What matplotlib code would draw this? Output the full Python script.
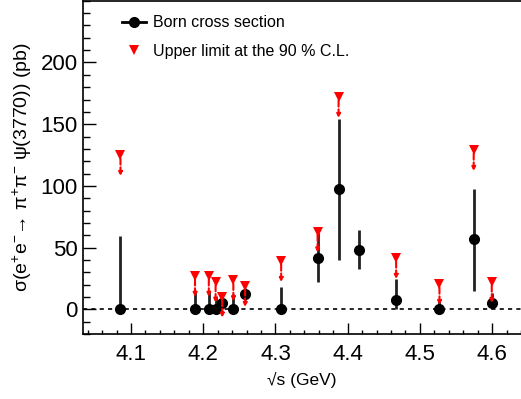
import numpy as np
import matplotlib
matplotlib.use("Agg")
import matplotlib.pyplot as plt
from matplotlib.lines import Line2D
from matplotlib.ticker import MultipleLocator

plt.rcParams['font.family'] = ['Liberation Sans', 'DejaVu Sans']
plt.rcParams['mathtext.fontset'] = 'custom'
plt.rcParams['mathtext.rm'] = 'Liberation Sans'
plt.rcParams['mathtext.it'] = 'Liberation Sans'
plt.rcParams['mathtext.bf'] = 'Liberation Sans:bold'
plt.rcParams['mathtext.default'] = 'rm'

# ---- data ----
energy = [4.0854, 4.1886, 4.2077, 4.2171, 4.2263, 4.2417, 4.2580, 4.3079,
          4.3583, 4.3874, 4.4156, 4.4671, 4.5271, 4.5745, 4.5995]
xsec = [0, 0, 0, 0, 4.8, 0, 12.3, 0, 41.5, 97.6, 48.4, 7.5, 0, 56.7, 4.8]
err_up = [59, 14, 14, 10, 5, 12, 5, 18, 20, 57, 16, 17, 8, 41, 8]
err_dn = [0, 0, 0, 0, 4.8, 0, 5, 0, 19, 58, 16, 7.5, 0, 42, 4.8]
upper_limit = [125, 27, 27, 22.3, 10.2, 23.4, 18.8, 39, 63, 172, np.nan,
               41.5, 20.4, 129, 22]

x_ticks = [4.1, 4.2, 4.3, 4.4, 4.5, 4.6]
y_ticks = [0, 50, 100, 150, 200]

fig = plt.figure(figsize=(5.21, 3.99), dpi=100)
ax = fig.add_axes([0.160, 0.163, 0.840, 0.835])

ax.axhline(0, color='black', ls=(0, (2.5, 2.5)), lw=1.2, zorder=1)

ax.errorbar(energy, xsec, yerr=[err_dn, err_up], fmt='o', color='black',
            ecolor='#222222', elinewidth=2.0, capsize=0, markersize=7,
            zorder=3)

for e, ul in zip(energy, upper_limit):
    if np.isnan(ul):
        continue
    ax.annotate('', xy=(e, ul), xycoords='data', xytext=(0, -15),
                textcoords='offset points',
                arrowprops=dict(arrowstyle='<|-', color='red', lw=1.5,
                                linestyle=(0, (3.0, 1.3)), mutation_scale=5,
                                shrinkA=0, shrinkB=0),
                zorder=4)
ax.plot(energy, upper_limit, 'v', color='red', markersize=7.2, zorder=5,
        markeredgewidth=0)

ax.set_xlim(4.034, 4.64)
ax.set_ylim(-20, 250)
ax.set_xticks(x_ticks)
ax.set_xticklabels([f"{v:.1f}" for v in x_ticks])
ax.set_yticks(y_ticks)
ax.xaxis.set_minor_locator(MultipleLocator(0.02))
ax.yaxis.set_minor_locator(MultipleLocator(10))
ax.tick_params(axis='x', which='major', direction='in', length=8, width=1,
               labelsize=16, pad=7)
ax.tick_params(axis='x', which='minor', direction='in', length=3, width=1)
ax.tick_params(axis='y', which='major', direction='in', length=9.5, width=1,
               labelsize=16, pad=4)
ax.tick_params(axis='y', which='minor', direction='in', length=5, width=1)
for s in ['left', 'bottom', 'top']:
    ax.spines[s].set_linewidth(1.2)
ax.spines['right'].set_visible(False)

ax.set_ylabel(r'σ(e$^{+}$e$^{-}$→ π$^{+}$π$^{-}$ ψ(3770)) (pb)',
              fontsize=14, labelpad=5)
ax.set_xlabel('√s (GeV)', fontsize=12.5, labelpad=5)

handles = [Line2D([], [], color='black', marker='o', markersize=7, lw=2),
           Line2D([], [], color='red', marker='v', markersize=7.2, lw=0,
                  markeredgewidth=0)]
ax.legend(handles, ['Born cross section', 'Upper limit at the 90 % C.L.'],
          loc='upper left', bbox_to_anchor=(0.055, 1.0), frameon=False,
          fontsize=11.5, handlelength=1.5, labelspacing=0.85,
          handletextpad=0.45)

fig.savefig('out.png', dpi=100)
